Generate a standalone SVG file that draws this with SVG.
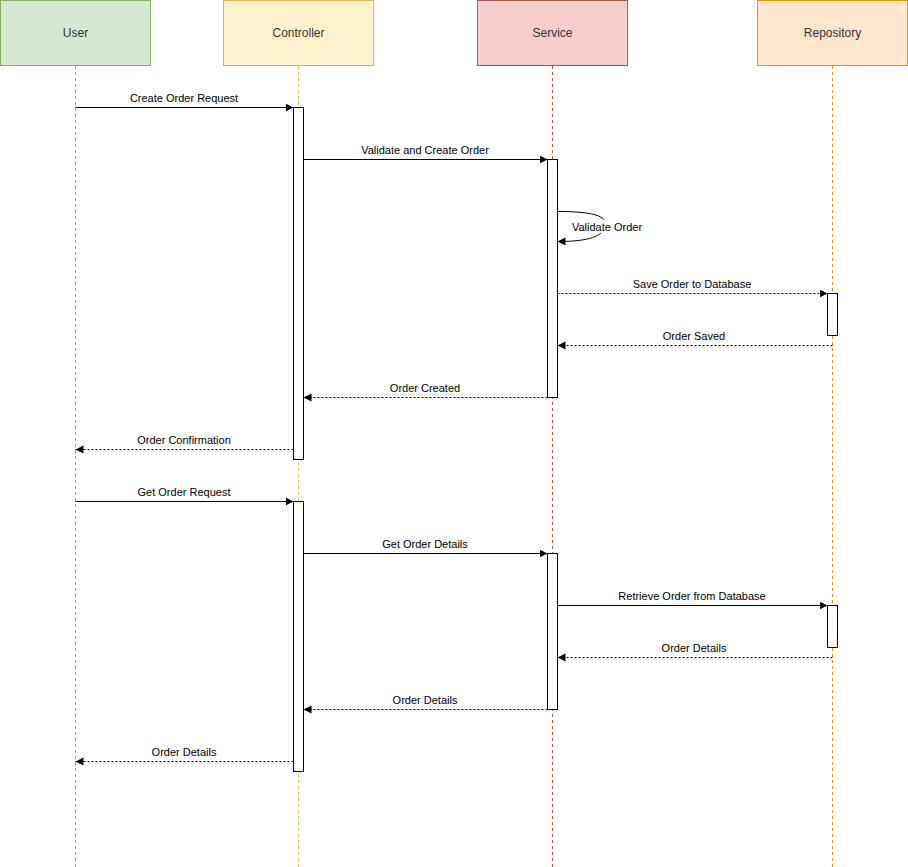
<svg xmlns="http://www.w3.org/2000/svg" width="908" height="867" viewBox="0 0 908 867">
<defs>
<style>
.hdr{stroke-width:1}
.hdrt{font-family:"Liberation Sans",Arial,sans-serif;font-size:12px;fill:#333333;text-anchor:middle}
.life{fill:none;stroke-width:1;stroke-dasharray:3 3}
.act{fill:#ffffff;stroke:#000000;stroke-width:1}
.msg{fill:none;stroke:#000000;stroke-width:1}
.ret{fill:none;stroke:#000000;stroke-width:1;stroke-dasharray:2 2}
.lbl{font-family:"Liberation Sans",Arial,sans-serif;font-size:11px;fill:#000000;text-anchor:middle}
</style>
<marker id="ah" markerUnits="userSpaceOnUse" markerWidth="10" markerHeight="10" refX="8" refY="4" orient="auto">
<path d="M0,0 L8,4 L0,8 Z" fill="#000000"/>
</marker>
</defs>
<rect width="908" height="867" fill="#ffffff"/>
<g id="user">
<rect x="0.5" y="0.5" width="150" height="65" fill="#d5e8d4" stroke="#82b366"/>
<text class="hdrt" x="75.5" y="37">User</text>
<line class="life" x1="75.5" y1="66" x2="75.5" y2="867" stroke="#82b366"/>
</g>
<g id="controller">
<rect x="223.5" y="0.5" width="150" height="65" fill="#fff2cc" stroke="#d6b656"/>
<text class="hdrt" x="298.5" y="37">Controller</text>
<line class="life" x1="298.5" y1="66" x2="298.5" y2="867" stroke="#d6b656"/>
<rect class="act" x="293.5" y="107.5" width="10" height="352"/>
<rect class="act" x="293.5" y="501.5" width="10" height="270"/>
</g>
<g id="service">
<rect x="477.5" y="0.5" width="150" height="65" fill="#f8cecc" stroke="#b85450"/>
<text class="hdrt" x="552.5" y="37">Service</text>
<line class="life" x1="552.5" y1="66" x2="552.5" y2="867" stroke="#b85450"/>
<rect class="act" x="547.5" y="159.5" width="10" height="238"/>
<rect class="act" x="547.5" y="553.5" width="10" height="156"/>
</g>
<g id="repository">
<rect x="757.5" y="0.5" width="150" height="65" fill="#ffe6cc" stroke="#d79b00"/>
<text class="hdrt" x="832.5" y="37">Repository</text>
<line class="life" x1="832.5" y1="66" x2="832.5" y2="867" stroke="#d79b00"/>
<rect class="act" x="827.5" y="293.5" width="10" height="42"/>
<rect class="act" x="827.5" y="605.5" width="10" height="42"/>
</g>
<g id="connectors">
<line class="msg" x1="75.5" y1="107.5" x2="293.5" y2="107.5" marker-end="url(#ah)"/>
<text class="lbl" x="184" y="102">Create Order Request</text>
<line class="msg" x1="303.5" y1="159.5" x2="547.5" y2="159.5" marker-end="url(#ah)"/>
<text class="lbl" x="425" y="154">Validate and Create Order</text>
<path class="msg" d="M557.5,211.5 C600,211.5 607,218 605,226 C603,236 590,241.5 557.5,241.5" marker-end="url(#ah)"/>
<rect x="571" y="220" width="72" height="13" fill="#ffffff"/>
<text class="lbl" x="607" y="231">Validate Order</text>
<line class="ret" x1="557.5" y1="293.5" x2="827.5" y2="293.5" marker-end="url(#ah)"/>
<text class="lbl" x="692" y="288">Save Order to Database</text>
<line class="ret" x1="832.5" y1="345.5" x2="557.5" y2="345.5" marker-end="url(#ah)"/>
<text class="lbl" x="694" y="340">Order Saved</text>
<line class="ret" x1="547.5" y1="397.5" x2="303.5" y2="397.5" marker-end="url(#ah)"/>
<text class="lbl" x="425" y="392">Order Created</text>
<line class="ret" x1="293.5" y1="449.5" x2="75.5" y2="449.5" marker-end="url(#ah)"/>
<text class="lbl" x="184" y="444">Order Confirmation</text>
<line class="msg" x1="75.5" y1="501.5" x2="293.5" y2="501.5" marker-end="url(#ah)"/>
<text class="lbl" x="184" y="496">Get Order Request</text>
<line class="msg" x1="303.5" y1="553.5" x2="547.5" y2="553.5" marker-end="url(#ah)"/>
<text class="lbl" x="425" y="548">Get Order Details</text>
<line class="msg" x1="557.5" y1="605.5" x2="827.5" y2="605.5" marker-end="url(#ah)"/>
<text class="lbl" x="692" y="600">Retrieve Order from Database</text>
<line class="ret" x1="832.5" y1="657.5" x2="557.5" y2="657.5" marker-end="url(#ah)"/>
<text class="lbl" x="694" y="652">Order Details</text>
<line class="ret" x1="547.5" y1="709.5" x2="303.5" y2="709.5" marker-end="url(#ah)"/>
<text class="lbl" x="425" y="704">Order Details</text>
<line class="ret" x1="293.5" y1="761.5" x2="75.5" y2="761.5" marker-end="url(#ah)"/>
<text class="lbl" x="184" y="756">Order Details</text>
</g>
</svg>
